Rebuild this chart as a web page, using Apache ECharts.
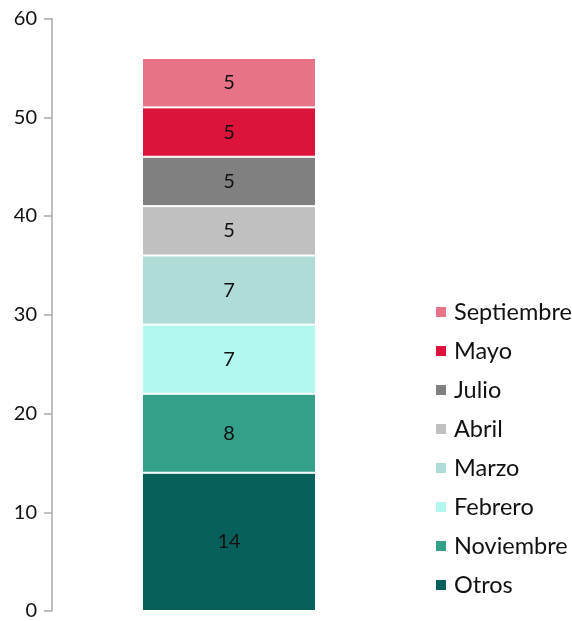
<!DOCTYPE html>
<html>
<head>
<meta charset="utf-8">
<script src="https://cdn.jsdelivr.net/npm/echarts@6/dist/echarts.min.js"></script>
<style>html,body{margin:0;padding:0;background:#fff}#c{width:572px;height:621px}</style>
</head>
<body>
<div id="c"></div>
<script>
var categories = [''];
var seriesNames = ['Otros','Noviembre','Febrero','Marzo','Abril','Julio','Mayo','Septiembre'];
var seriesValues = [14, 8, 7, 7, 5, 5, 5, 5];
var seriesColors = ['#08605c','#35a08a','#b2f7f0','#b0dcd8','#c0c0c0','#808080','#dc143c','#e87389'];
var yTicks = [0, 10, 20, 30, 40, 50, 60];

var chart = echarts.init(document.getElementById('c'), null, {renderer: 'canvas'});
var series = seriesNames.map(function (n, i) {
  return {
    name: n, type: 'bar', stack: 'total', barWidth: 174,
    data: [seriesValues[i]],
    itemStyle: {color: seriesColors[i], borderColor: '#ffffff', borderWidth: 1},
    label: {show: true, position: 'inside', color: '#111', fontFamily: 'Lato', fontSize: 20}
  };
});
chart.setOption({
  animation: false,
  textStyle: {fontFamily: 'Lato'},
  grid: {left: 52, right: 166, top: 18.5, bottom: 10},
  legend: {
    orient: 'vertical', left: 429, top: 295,
    data: seriesNames.slice().reverse(),
    itemWidth: 12, itemHeight: 12, itemGap: 15, icon: 'rect',
    textStyle: {fontFamily: 'Lato', fontSize: 23.5, color: '#111', padding: [0, 0, 0, 2]}
  },
  xAxis: {type: 'category', data: categories, axisLine: {show: false}, axisTick: {show: false}, axisLabel: {show: false}},
  yAxis: {
    type: 'value', min: yTicks[0], max: yTicks[yTicks.length - 1], interval: 10,
    splitLine: {show: false},
    axisLine: {show: true, lineStyle: {color: '#aaa', width: 1.5}},
    axisTick: {show: true, length: 8, lineStyle: {color: '#aaa', width: 1.5}},
    axisLabel: {color: '#111', fontSize: 20, fontFamily: 'Lato', margin: 15}
  },
  series: series
});
</script>
</body>
</html>
